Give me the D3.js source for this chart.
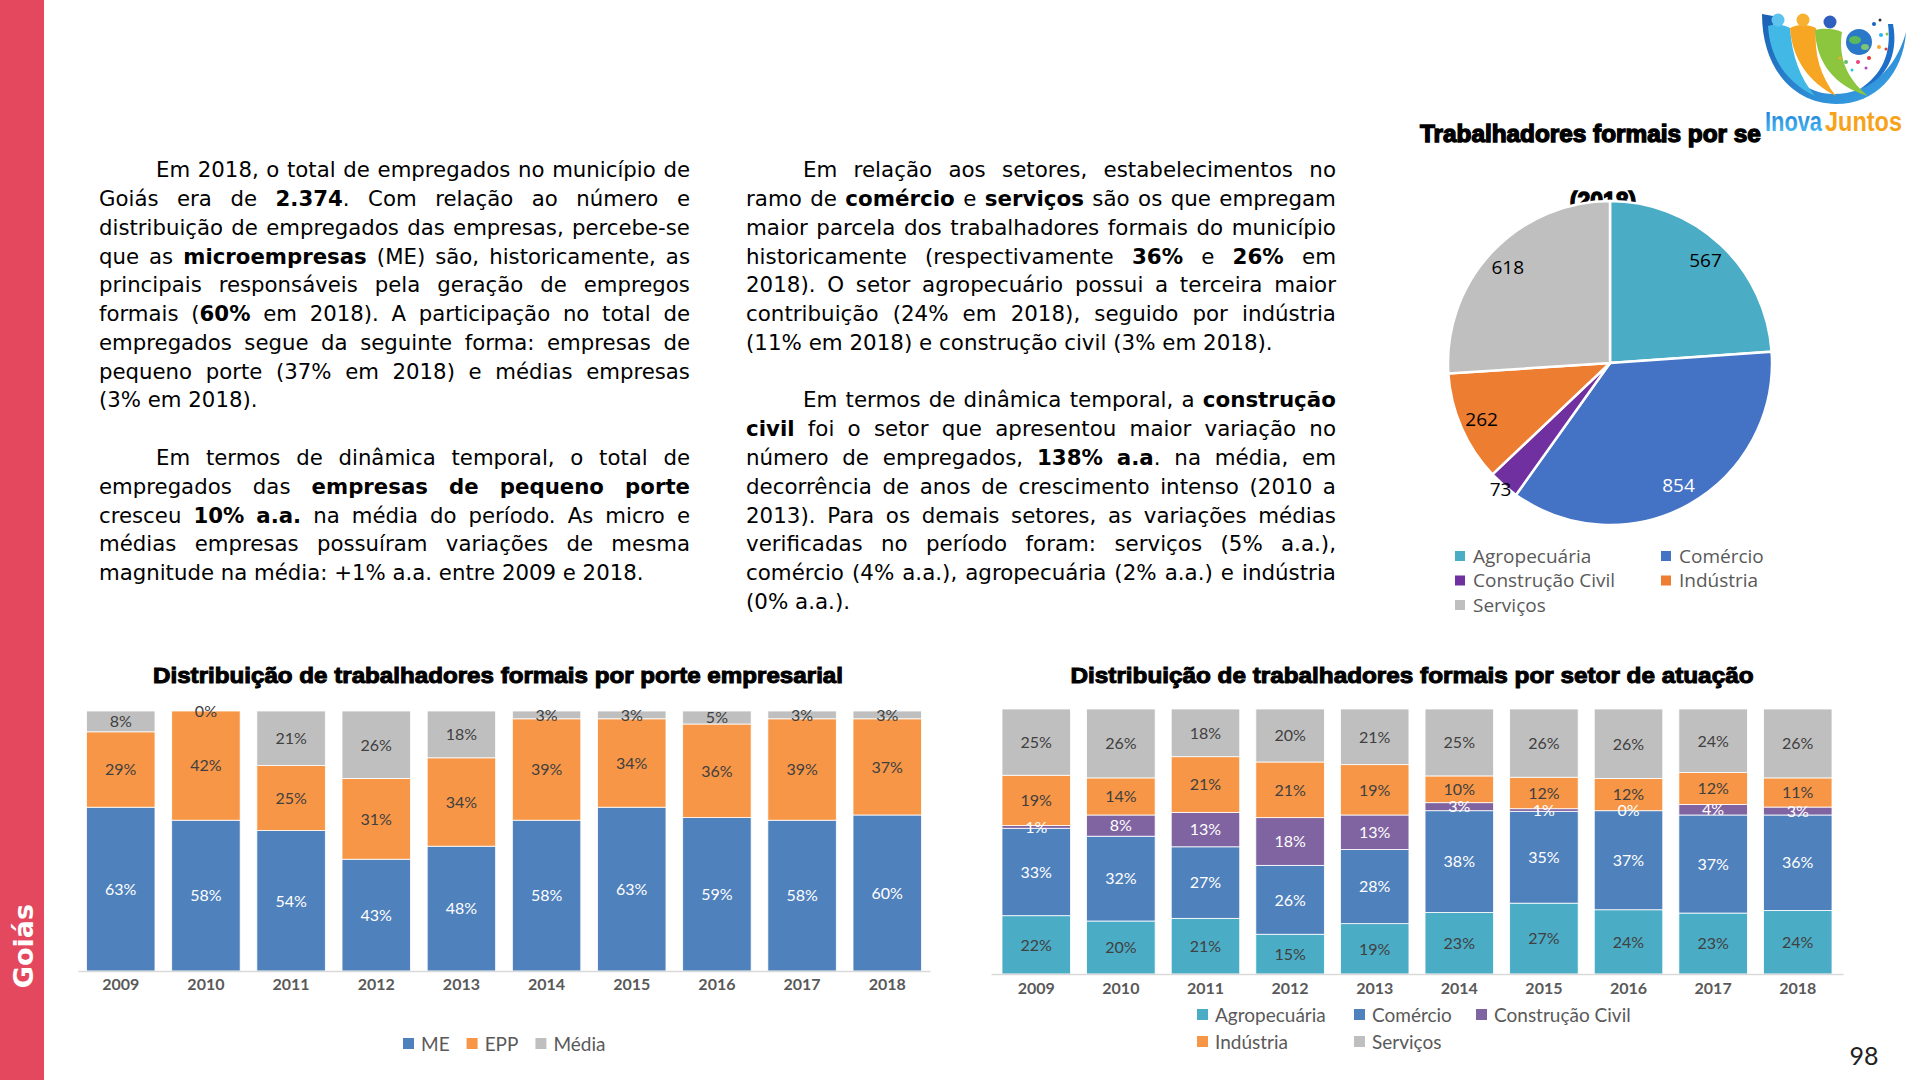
<!DOCTYPE html>
<html>
<head>
<meta charset="utf-8">
<script src="https://cdn.jsdelivr.net/npm/d3@7"></script>
<style>
  body { margin: 0; background: #fff; }
  svg { display: block; }
</style>
</head>
<body>
<svg id="page" width="1920" height="1080"></svg>
<script>
// ---- data ----
var years = ["2009", "2010", "2011", "2012", "2013", "2014", "2015", "2016", "2017", "2018"];

var porteKeys = ["ME", "EPP", "Média"];
var porteME    = [63, 58, 54, 43, 48, 58, 63, 59, 58, 60];
var porteEPP   = [29, 42, 25, 31, 34, 39, 34, 36, 39, 37];
var porteMedia = [8, 0, 21, 26, 18, 3, 3, 5, 3, 3];

var setorKeys = ["Agropecuária", "Comércio", "Construção Civil", "Indústria", "Serviços"];
var setorAgro       = [22, 20, 21, 15, 19, 23, 27, 24, 23, 24];
var setorComercio   = [33, 32, 27, 26, 28, 38, 35, 37, 37, 36];
var setorConstrucao = [1, 8, 13, 18, 13, 3, 1, 0, 4, 3];
var setorIndustria  = [19, 14, 21, 21, 19, 10, 12, 12, 12, 11];
var setorServicos   = [25, 26, 18, 20, 21, 25, 26, 26, 24, 26];

var pie2018 = [567, 854, 73, 262, 618];

var textLeft = [
  ["Em 2018, o total de empregados no município de",
   "Goiás era de **2.374**. Com relação ao número e",
   "distribuição de empregados das empresas, percebe-se",
   "que as **microempresas** (ME) são, historicamente, as",
   "principais responsáveis pela geração de empregos",
   "formais (**60%** em 2018). A participação no total de",
   "empregados segue da seguinte forma: empresas de",
   "pequeno porte (37% em 2018) e médias empresas",
   "(3% em 2018)."],
  ["Em termos de dinâmica temporal, o total de",
   "empregados das **empresas de pequeno porte**",
   "cresceu **10% a.a.** na média do período. As micro e",
   "médias empresas possuíram variações de mesma",
   "magnitude na média: +1% a.a. entre 2009 e 2018."]
];
var textRight = [
  ["Em relação aos setores, estabelecimentos no",
   "ramo de **comércio** e **serviços** são os que empregam",
   "maior parcela dos trabalhadores formais do município",
   "historicamente (respectivamente **36%** e **26%** em",
   "2018). O setor agropecuário possui a terceira maior",
   "contribuição (24% em 2018), seguido por indústria",
   "(11% em 2018) e construção civil (3% em 2018)."],
  ["Em termos de dinâmica temporal, a **construção**",
   "**civil** foi o setor que apresentou maior variação no",
   "número de empregados, **138% a.a**. na média, em",
   "decorrência de anos de crescimento intenso (2010 a",
   "2013). Para os demais setores, as variações médias",
   "verificadas no período foram: serviços (5% a.a.),",
   "comércio (4% a.a.), agropecuária (2% a.a.) e indústria",
   "(0% a.a.)."]
];

var svg = d3.select("#page");
var defs = svg.append("defs");

// ---- side band ----
svg.append("rect").attr("x", 0).attr("y", 0).attr("width", 44).attr("height", 1080).attr("fill", "#e4485e");
svg.append("text")
  .attr("transform", "translate(33,946) rotate(-90)")
  .attr("text-anchor", "middle")
  .attr("font-family", "DejaVu Sans").attr("font-weight", "bold").attr("font-size", 27)
  .attr("fill", "#fff").text("Goiás");

// ---- justified text columns ----
function parseLine(line)
{
  var words = [], cur = [], bold = false, buf = "";
  function flush() { if (buf) { cur.push({ t: buf, b: bold }); buf = ""; } }
  for (var i = 0; i < line.length; i++) {
    if (line.substr(i, 2) == "**") { flush(); bold = !bold; i++; continue; }
    var c = line[i];
    if (c == " ") { flush(); if (cur.length) words.push(cur); cur = []; continue; }
    buf += c;
  }
  flush();
  if (cur.length) words.push(cur);
  return words;
}

function drawColumn(paragraphs, x0, width, baseY, pitch, indent, refWidth)
{
  var inner = svg.append("g");
  var rows = [], row = 0;
  paragraphs.forEach(function(para) {
    para.forEach(function(line, li) {
      rows.push({ line: line, row: row, indent: li == 0, last: li == para.length - 1 });
      row++;
    });
    row++;
  });

  var probe = inner.append("text").attr("font-family", "DejaVu Sans").attr("font-size", 21.5);
  probe.text("a a"); var w1 = probe.node().getComputedTextLength();
  probe.text("aa");  var w2 = probe.node().getComputedTextLength();
  probe.remove();
  var spaceW = w1 - w2;

  rows.forEach(function(r) {
    r.words = parseLine(r.line).map(function(segs) {
      var t = inner.append("text")
        .attr("font-family", "DejaVu Sans").attr("font-size", 21.5).attr("fill", "#000")
        .attr("y", baseY + r.row * pitch);
      segs.forEach(function(s) {
        t.append("tspan").attr("font-weight", s.b ? "bold" : "normal").text(s.t);
      });
      return { node: t, w: t.node().getComputedTextLength() };
    });
    r.sum = d3.sum(r.words, function(d) { return d.w; });
  });

  // horizontal squeeze so the reference last line keeps its width
  var last = rows[rows.length - 1];
  if (refWidth.row != null) last = rows.filter(function(r) { return r.row == refWidth.row; })[0];
  var natural = last.sum + (last.words.length - 1) * spaceW;
  var k = refWidth.w / natural;
  var innerW = width / k;

  rows.forEach(function(r) {
    var xs = r.indent ? indent / k : 0;
    var n = r.words.length;
    var gap = spaceW;
    if (!r.last && n > 1) gap = Math.max(spaceW * 0.5, (innerW - xs - r.sum) / (n - 1));
    var x = xs;
    r.words.forEach(function(w) {
      w.node.attr("x", x);
      x += w.w + gap;
    });
  });
  inner.attr("transform", "translate(" + x0 + ",0) scale(" + k + ",1)");
}

drawColumn(textLeft, 99, 591, 177.3, 28.77, 57, { w: 544.5 });
drawColumn(textRight, 746, 590, 177.3, 28.77, 57, { w: 526.7, row: 6 });

// ---- stacked bar charts ----
function chartTitle(text, x, y, len)
{
  svg.append("text")
    .attr("x", x).attr("y", y).attr("text-anchor", "middle")
    .attr("font-family", "Liberation Sans, Arial, sans-serif").attr("font-weight", "bold").attr("font-size", 22)
    .attr("fill", "#000").attr("stroke", "#000").attr("stroke-width", 1)
    .attr("textLength", len).attr("lengthAdjust", "spacingAndGlyphs")
    .text(text);
}

function stackedBars(cfg)
{
  var rows = years.map(function(y, i) {
    var o = { year: y };
    cfg.keys.forEach(function(k, j) { o[k] = cfg.series[j][i]; });
    return o;
  });
  var layers = d3.stack().keys(cfg.keys).offset(d3.stackOffsetExpand)(rows);

  var x = d3.scaleBand().domain(years).range(cfg.xRange).paddingInner(cfg.pi).paddingOuter(cfg.po);
  var y = d3.scaleLinear().domain([0, 1]).range(cfg.yRange);
  var g = svg.append("g");

  layers.forEach(function(layer, j) {
    g.append("g").selectAll("rect").data(layer).join("rect")
      .attr("x", function(d) { return x(d.data.year); })
      .attr("width", x.bandwidth())
      .attr("y", function(d) { return y(d[1]); })
      .attr("height", function(d) { return y(d[0]) - y(d[1]); })
      .attr("fill", cfg.colors[j])
      .attr("stroke", "#fff").attr("stroke-width", 0.8);
  });

  layers.forEach(function(layer, j) {
    g.append("g").selectAll("text").data(layer).join("text")
      .attr("x", function(d) { return x(d.data.year) + x.bandwidth() / 2; })
      .attr("y", function(d) { return (y(d[0]) + y(d[1])) / 2; })
      .attr("dy", "0.36em").attr("text-anchor", "middle")
      .attr("font-family", "Lato, sans-serif").attr("font-size", 16)
      .attr("fill", cfg.labelColors[j])
      .text(function(d, i) { return cfg.series[j][i] + "%"; });
  });

  var axis = g.append("g")
    .attr("transform", "translate(0," + cfg.yRange[0] + ")")
    .call(d3.axisBottom(x).tickSize(0).tickSizeOuter(0).tickPadding(cfg.tickPad));
  axis.select(".domain").attr("stroke", "#d9d9d9").attr("stroke-width", 1.3);
  axis.selectAll(".tick text")
    .attr("font-family", "Lato, sans-serif").attr("font-weight", "bold").attr("font-size", 16)
    .attr("fill", "#595959");

  // legend
  var lg = svg.append("g").attr("font-family", "Lato, sans-serif").attr("font-size", 19).attr("fill", "#595959");
  var cx = cfg.legend.x;
  cfg.keys.forEach(function(k, j) {
    var px, py;
    if (cfg.legend.cols) {
      px = cfg.legend.cols[j % cfg.legend.cols.length];
      py = cfg.legend.rows[Math.floor(j / cfg.legend.cols.length)];
    } else { px = cx; py = cfg.legend.rows[0]; }
    lg.append("rect").attr("x", px).attr("y", py - 6).attr("width", 11).attr("height", 11).attr("fill", cfg.colors[j]);
    var t = lg.append("text").attr("x", px + 18).attr("y", py).attr("dy", "0.35em").text(k);
    cx = px + 18 + t.node().getComputedTextLength() + 17;
  });
}

chartTitle("Distribuição de trabalhadores formais por porte empresarial", 498, 683, 690);
stackedBars({
  keys: porteKeys,
  series: [porteME, porteEPP, porteMedia],
  colors: ["#4f81bd", "#f79646", "#bfbfbf"],
  labelColors: ["#ffffff", "#404040", "#404040"],
  xRange: [78, 930], pi: 0.196, po: 0.1,
  yRange: [971, 711],
  tickPad: 7.6,
  legend: { x: 403, rows: [1044] }
});

chartTitle("Distribuição de trabalhadores formais por setor de atuação", 1412, 683, 683);
stackedBars({
  keys: setorKeys,
  series: [setorAgro, setorComercio, setorConstrucao, setorIndustria, setorServicos],
  colors: ["#4bacc6", "#4f81bd", "#8064a2", "#f79646", "#bfbfbf"],
  labelColors: ["#404040", "#ffffff", "#ffffff", "#404040", "#404040"],
  xRange: [991, 1843], pi: 0.19, po: 0.13,
  yRange: [974, 709],
  tickPad: 8.6,
  legend: { cols: [1197, 1354, 1476], rows: [1015, 1042] }
});

// ---- pie 2018 ----
var pieColors = ["#4bacc6", "#4472c4", "#7030a0", "#ed7d31", "#bfbfbf"];
var pieCx = 1610, pieCy = 363, pieR = 162;

// squeeze a text horizontally to a given width
function fitText(sel, x, y, w)
{
  var k = w / sel.node().getComputedTextLength();
  sel.attr("transform", "translate(" + x + "," + y + ") scale(" + k + ",1)");
  return sel;
}

// title: the logo box hides the end of it on the slide, only the visible part is drawn
fitText(svg.append("text")
  .attr("font-family", "Liberation Sans, Arial, sans-serif").attr("font-weight", "bold").attr("font-size", 23)
  .attr("fill", "#000").attr("stroke", "#000").attr("stroke-width", 1.3)
  .text("Trabalhadores formais por se"), 1420, 142, 341);

svg.append("text")
  .attr("x", 1603).attr("y", 209).attr("text-anchor", "middle")
  .attr("font-family", "Liberation Sans, Arial, sans-serif").attr("font-weight", "bold").attr("font-size", 23)
  .attr("fill", "#000").attr("stroke", "#000").attr("stroke-width", 1.3)
  .text("(2018)");

var arcs = d3.pie().sort(null)(pie2018);
var pieArc = d3.arc().innerRadius(0).outerRadius(pieR);
var inArc = d3.arc().innerRadius(pieR * 0.865).outerRadius(pieR * 0.865);
var outArc = d3.arc().innerRadius(pieR * 1.03).outerRadius(pieR * 1.03);
var pg = svg.append("g").attr("transform", "translate(" + pieCx + "," + pieCy + ")");
pg.selectAll("path").data(arcs).join("path")
  .attr("d", pieArc)
  .attr("fill", function(d, i) { return pieColors[i]; })
  .attr("stroke", "#fff").attr("stroke-width", 2.5);
pg.selectAll("text").data(arcs).join("text")
  .attr("transform", function(d) {
    var a = (d.endAngle - d.startAngle) < 0.25 ? outArc : inArc;
    return "translate(" + a.centroid(d) + ")";
  })
  .attr("dy", "0.36em").attr("text-anchor", "middle")
  .attr("font-family", "Open Sans, sans-serif").attr("font-size", 19)
  .attr("fill", function(d, i) { return i == 1 ? "#fff" : "#000"; })
  .text(function(d) { return d.data; });

var plg = svg.append("g").attr("font-family", "Open Sans, sans-serif").attr("font-size", 19).attr("fill", "#595959");
setorKeys.forEach(function(k, i) {
  var px = [1455, 1661][i % 2];
  var py = [556, 580.5, 605][Math.floor(i / 2)];
  plg.append("rect").attr("x", px).attr("y", py - 5).attr("width", 10).attr("height", 10).attr("fill", pieColors[i]);
  plg.append("text").attr("x", px + 18).attr("y", py).attr("dy", "0.35em").text(k);
});

// ---- logo ----
var logo = svg.append("g");
var grad = defs.append("linearGradient").attr("id", "lgBlue").attr("x1", "0").attr("y1", "0").attr("x2", "1").attr("y2", "1");
grad.append("stop").attr("offset", "0").attr("stop-color", "#1a5fb4");
grad.append("stop").attr("offset", "1").attr("stop-color", "#3aa7e8");
var grad2 = defs.append("linearGradient").attr("id", "lgInova").attr("x1", "0").attr("y1", "0").attr("x2", "0").attr("y2", "1");
grad2.append("stop").attr("offset", "0").attr("stop-color", "#1976d2");
grad2.append("stop").attr("offset", "1").attr("stop-color", "#4fc3f7");

logo.append("path").attr("fill", "url(#lgBlue)")
  .attr("d", "M1762,14 C1762,70 1795,104 1836,104 C1876,104 1903,74 1906,32 C1896,70 1868,94 1834,94 C1798,94 1774,62 1773,16 Z");
logo.append("path").attr("fill", "#41b8e6")
  .attr("d", "M1768,26 C1770,58 1786,82 1815,96 C1800,78 1792,56 1790,28 C1784,24 1774,24 1768,26 Z");
logo.append("path").attr("fill", "#f6a623")
  .attr("d", "M1790,28 C1792,58 1808,82 1836,96 C1820,76 1814,54 1816,28 C1808,24 1797,24 1790,28 Z");
logo.append("path").attr("fill", "#8cc63f")
  .attr("d", "M1815,30 C1816,62 1834,86 1868,96 C1846,78 1838,56 1842,32 C1834,28 1822,28 1815,30 Z");
logo.append("path").attr("fill", "#1e6fc8")
  .attr("d", "M1893,24 C1899,55 1886,80 1860,89 C1881,75 1892,55 1888,24 Z");
[[1778, 20, 6.5, "#5ec4ee"], [1803, 20, 6.5, "#f7b030"], [1830, 22, 6.5, "#2f5fbf"]].forEach(function(h) {
  logo.append("circle").attr("cx", h[0]).attr("cy", h[1]).attr("r", h[2]).attr("fill", h[3]);
});
logo.append("circle").attr("cx", 1859).attr("cy", 42).attr("r", 13).attr("fill", "#2a78c8");
logo.append("ellipse").attr("cx", 1855).attr("cy", 40).attr("rx", 6).attr("ry", 4).attr("fill", "#5cb85c");
logo.append("ellipse").attr("cx", 1865).attr("cy", 47).attr("rx", 4).attr("ry", 3).attr("fill", "#7cc576");
[[1874, 24, 2, "#1565c0"], [1880, 20, 1.5, "#333"], [1881, 35, 2, "#29b6f6"], [1887, 34, 1.5, "#8bc34a"],
 [1879, 47, 2, "#ffa726"], [1886, 49, 1.5, "#e53935"], [1869, 58, 2, "#e53935"], [1858, 62, 2, "#ec407a"],
 [1846, 62, 2, "#66bb6a"], [1840, 58, 1.5, "#ffa726"], [1852, 70, 1.5, "#26c6da"], [1866, 68, 1.5, "#ab47bc"]
].forEach(function(p) {
  logo.append("circle").attr("cx", p[0]).attr("cy", p[1]).attr("r", p[2]).attr("fill", p[3]);
});
fitText(logo.append("text")
  .attr("font-family", "Liberation Sans, Arial, sans-serif").attr("font-weight", "bold").attr("font-size", 27)
  .attr("fill", "url(#lgInova)").text("Inova"), 1765, 131, 57);
fitText(logo.append("text")
  .attr("font-family", "Liberation Sans, Arial, sans-serif").attr("font-weight", "bold").attr("font-size", 27)
  .attr("fill", "#f7a21b").text("Juntos"), 1825, 131, 77);

// ---- page number ----
svg.append("text").attr("x", 1864).attr("y", 1065).attr("text-anchor", "middle")
  .attr("font-family", "Lato, sans-serif").attr("font-size", 25).attr("fill", "#222").text("98");
</script>
</body>
</html>
